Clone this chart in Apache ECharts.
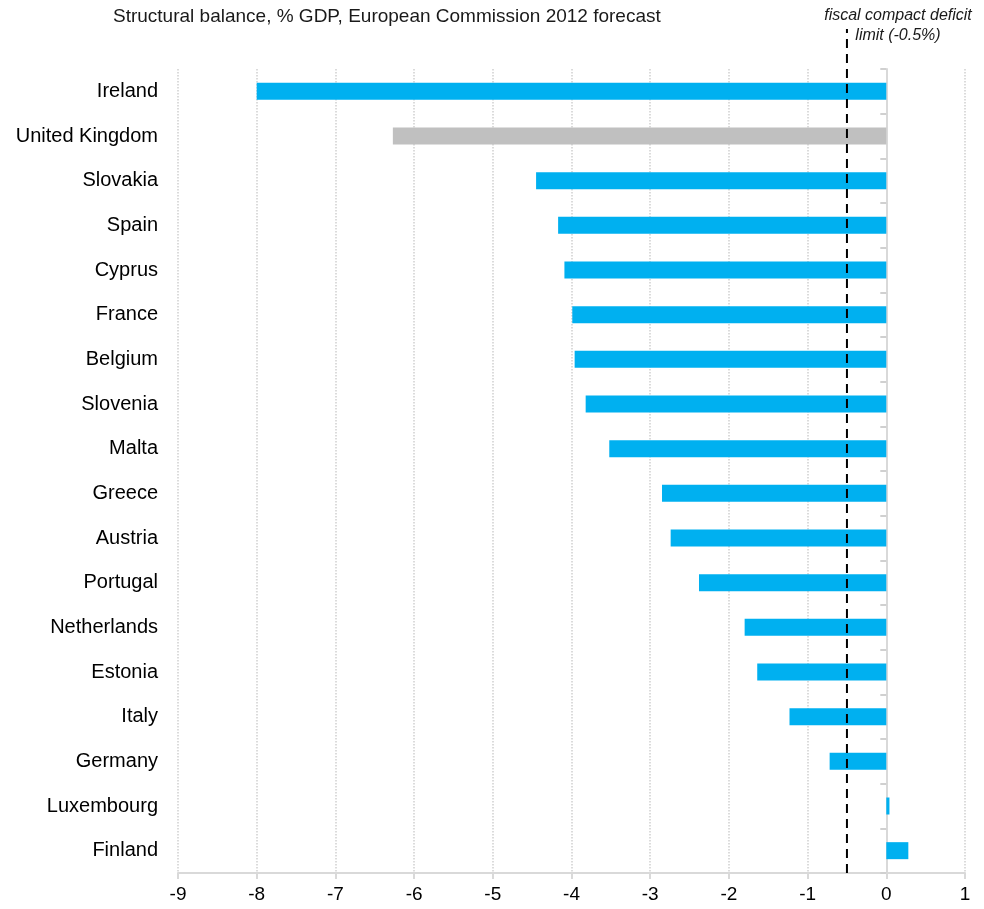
<!DOCTYPE html>
<html>
<head>
<meta charset="utf-8">
<title>Structural balance</title>
<script src="https://cdn.jsdelivr.net/npm/echarts@6/dist/echarts.min.js"></script>
<style>
  html, body { margin: 0; padding: 0; background: #fff; }
  #chart { width: 984px; height: 909px; }
</style>
</head>
<body>
<div id="chart"></div>
<script>
// data
var countries = ['Ireland', 'United Kingdom', 'Slovakia', 'Spain', 'Cyprus', 'France',
  'Belgium', 'Slovenia', 'Malta', 'Greece', 'Austria', 'Portugal', 'Netherlands',
  'Estonia', 'Italy', 'Germany', 'Luxembourg', 'Finland']
var balance = [-8.0, -6.27, -4.45, -4.17, -4.09, -3.99, -3.96, -3.82, -3.52, -2.85,
  -2.74, -2.38, -1.80, -1.64, -1.23, -0.72, 0.04, 0.28]
var nonEuro = ['United Kingdom']
var deficitLimit = -0.5
var xMin = -9
var xMax = 1

var font = '"Liberation Sans", Arial, sans-serif'
var chart = echarts.init(document.getElementById('chart'))

chart.setOption({
  animation: false,
  title: {
    text: 'Structural balance, % GDP, European Commission 2012 forecast',
    left: 108,
    top: 2,
    textStyle: { fontFamily: font, fontSize: 19, fontWeight: 'normal', color: '#1a1a1a' }
  },
  graphic: [{
    type: 'text',
    x: 898,
    y: 6,
    style: {
      text: 'fiscal compact deficit\nlimit (-0.5%)',
      textAlign: 'center',
      textVerticalAlign: 'top',
      font: 'italic 16px ' + font,
      lineHeight: 20,
      fill: '#1a1a1a'
    }
  }],
  grid: [
    { left: 178, right: 19, top: 69, bottom: 36 },
    // used only for the dashed limit line that runs up to the note
    { left: 178, right: 19, top: 29, bottom: 36 }
  ],
  xAxis: [
    {
      type: 'value',
      min: xMin,
      max: xMax,
      interval: 1,
      axisLine: { show: true, onZero: false, lineStyle: { color: '#d9d9d9', width: 2 } },
      axisTick: { show: true, length: 6, lineStyle: { color: '#d9d9d9', width: 2 } },
      axisLabel: { fontFamily: font, fontSize: 19, color: '#000', margin: 12 },
      // 竖向点线
      splitLine: { show: true, lineStyle: { color: '#cfcfcf', type: 'dotted', width: 1.5 } }
    },
    {
      type: 'value',
      gridIndex: 1,
      min: xMin,
      max: xMax,
      show: false
    }
  ],
  yAxis: [
    {
      type: 'category',
      inverse: true,
      data: countries,
      axisLine: { show: false, onZero: false },
      axisTick: { show: false },
      axisLabel: { fontFamily: font, fontSize: 20, color: '#000', margin: 20 },
      splitLine: { show: false }
    },
    {
      // zero line with category ticks
      type: 'category',
      inverse: true,
      position: 'right',
      data: countries,
      axisLine: { show: true, onZero: true, lineStyle: { color: '#d9d9d9', width: 2 } },
      axisTick: { show: true, inside: true, length: 6, lineStyle: { color: '#d0d0d0', width: 2 } },
      axisLabel: { show: false },
      splitLine: { show: false }
    },
    {
      type: 'value',
      gridIndex: 1,
      min: 0,
      max: 1,
      show: false
    }
  ],
  series: [
    {
      type: 'bar',
      yAxisIndex: 0,
      barWidth: 17,
      data: balance.map(function (v, i) {
        return {
          value: v,
          itemStyle: { color: nonEuro.indexOf(countries[i]) >= 0 ? '#c0c0c0' : '#00b0f0' }
        }
      })
    },
    {
      type: 'line',
      xAxisIndex: 1,
      yAxisIndex: 2,
      symbol: 'none',
      silent: true,
      z: 5,
      lineStyle: { color: '#000', width: 2, type: [9, 6] },
      data: [[deficitLimit, 0], [deficitLimit, 1]]
    }
  ]
})
</script>
</body>
</html>
